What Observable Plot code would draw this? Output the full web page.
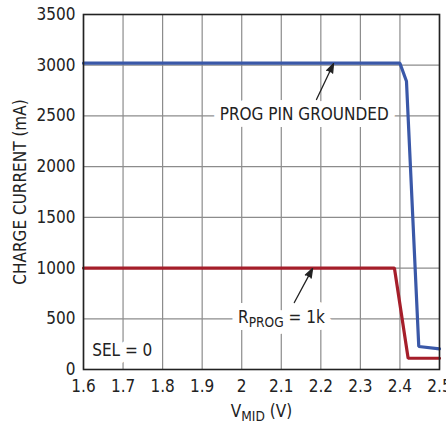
<!DOCTYPE html>
<html>
<head>
<meta charset="utf-8">
<script src="https://cdn.jsdelivr.net/npm/d3@7"></script>
<script src="https://cdn.jsdelivr.net/npm/@observablehq/plot@0.6"></script>
<style>
  html, body { margin: 0; padding: 0; background: white; }
</style>
</head>
<body>
<div id="chart"></div>
<script>
// Tick values
const xTicks = [1.6, 1.7, 1.8, 1.9, 2.0, 2.1, 2.2, 2.3, 2.4, 2.5];
const yTicks = [0, 500, 1000, 1500, 2000, 2500, 3000, 3500];

// Series: PROG pin grounded
const vmidGrounded = [1.6, 2.4, 2.4165, 2.4476, 2.5];
const iGrounded    = [3020, 3020, 2842, 227, 204];

// Series: RPROG = 1k
const vmidR1k = [1.6, 2.386, 2.4207, 2.5];
const iR1k    = [1000, 1000, 111, 111];

// Annotations
const notes = [
  {label: "PROG PIN GROUNDED", x: 2.158, y: 2500, anchor: "middle"},
  {label: "RPROG = 1k", x: 2.1005, y: 500, anchor: "middle"},
  {label: "SEL = 0", x: 1.622, y: 175, anchor: "start"}
];
const arrows = [
  {x1: 2.189, y1: 2662, x2: 2.232, y2: 3015},
  {x1: 2.133, y1: 660, x2: 2.179, y2: 995}
];

const grounded = vmidGrounded.map((v, i) => ({v, i: iGrounded[i]}));
const r1k = vmidR1k.map((v, i) => ({v, i: iR1k[i]}));

const FONT = "'DejaVu Sans Condensed', 'Liberation Sans Narrow', sans-serif";
const FS = 17;
const ink = "#222";

const noteMarks = (opts) => ["middle", "start"].map(a =>
  Plot.text(notes.filter(d => d.anchor === a), {x: "x", y: "y", text: "label", dy: -1,
    textAnchor: a, fontSize: FS, ...opts}));

const chart = Plot.plot({
  width: 446,
  height: 427,
  marginLeft: 83,
  marginRight: 7,
  marginTop: 14,
  marginBottom: 58,
  style: {fontFamily: FONT, fontSize: FS + "px", color: ink, background: "white"},
  x: {domain: [1.6, 2.5], label: null},
  y: {domain: [0, 3500], label: null},
  marks: [
    Plot.gridX(xTicks, {stroke: "#8c8c8c", strokeOpacity: 1, strokeWidth: 1.2}),
    Plot.gridY(yTicks, {stroke: "#8c8c8c", strokeOpacity: 1, strokeWidth: 1.2}),
    Plot.axisX(xTicks, {tickSize: 0, tickPadding: 10, fontSize: FS, label: null,
      tickFormat: d => String(+d.toFixed(1))}),
    Plot.axisY(yTicks, {tickSize: 0, tickPadding: 8, fontSize: FS, label: null,
      tickFormat: d => String(d)}),
    // annotation halos (white boxes), then the text itself
    ...noteMarks({fill: "white", stroke: "white", strokeWidth: 14, strokeLinejoin: "round"}),
    ...noteMarks({fill: ink}),
    // curves
    Plot.line(grounded, {x: "v", y: "i", stroke: "#3a58a8", strokeWidth: 3.2, strokeLinejoin: "miter"}),
    Plot.line(r1k, {x: "v", y: "i", stroke: "#a51e2a", strokeWidth: 3.2, strokeLinejoin: "miter"}),
    // arrows
    Plot.arrow(arrows, {x1: "x1", y1: "y1", x2: "x2", y2: "y2",
      stroke: ink, fill: ink, strokeWidth: 1.3, headLength: 11, headAngle: 40}),
    Plot.frame({stroke: ink, strokeWidth: 1.6}),
    // axis titles
    Plot.text(["CHARGE CURRENT (mA)"], {frameAnchor: "left", rotate: -90, dx: -63,
      textAnchor: "middle", lineAnchor: "middle", text: d => d, fontSize: FS, fill: ink}),
    Plot.text(["VMID (V)"], {frameAnchor: "bottom", dy: 42, textAnchor: "middle", lineAnchor: "middle",
      text: d => d, fontSize: FS, fill: ink})
  ]
});

document.getElementById("chart").appendChild(chart);

// Rebuild labels that need subscripts
function rebuild(content, parts) {
  const sel = d3.select(chart).selectAll("text").filter(function () {
    return this.textContent === content;
  });
  sel.each(function () {
    const t = d3.select(this);
    t.text(null);
    let inSub = false;
    for (const [str, sub] of parts) {
      const ts = t.append("tspan").text(str);
      if (sub) { ts.attr("font-size", "0.8em"); if (!inSub) ts.attr("dy", "0.3em"); inSub = true; }
      else { if (inSub) ts.attr("dy", "-0.24em"); inSub = false; }
    }
  });
}
rebuild("RPROG = 1k", [["R", false], ["PROG", true], [" = 1k", false]]);
rebuild("VMID (V)", [["V", false], ["MID", true], [" (V)", false]]);
</script>
</body>
</html>
